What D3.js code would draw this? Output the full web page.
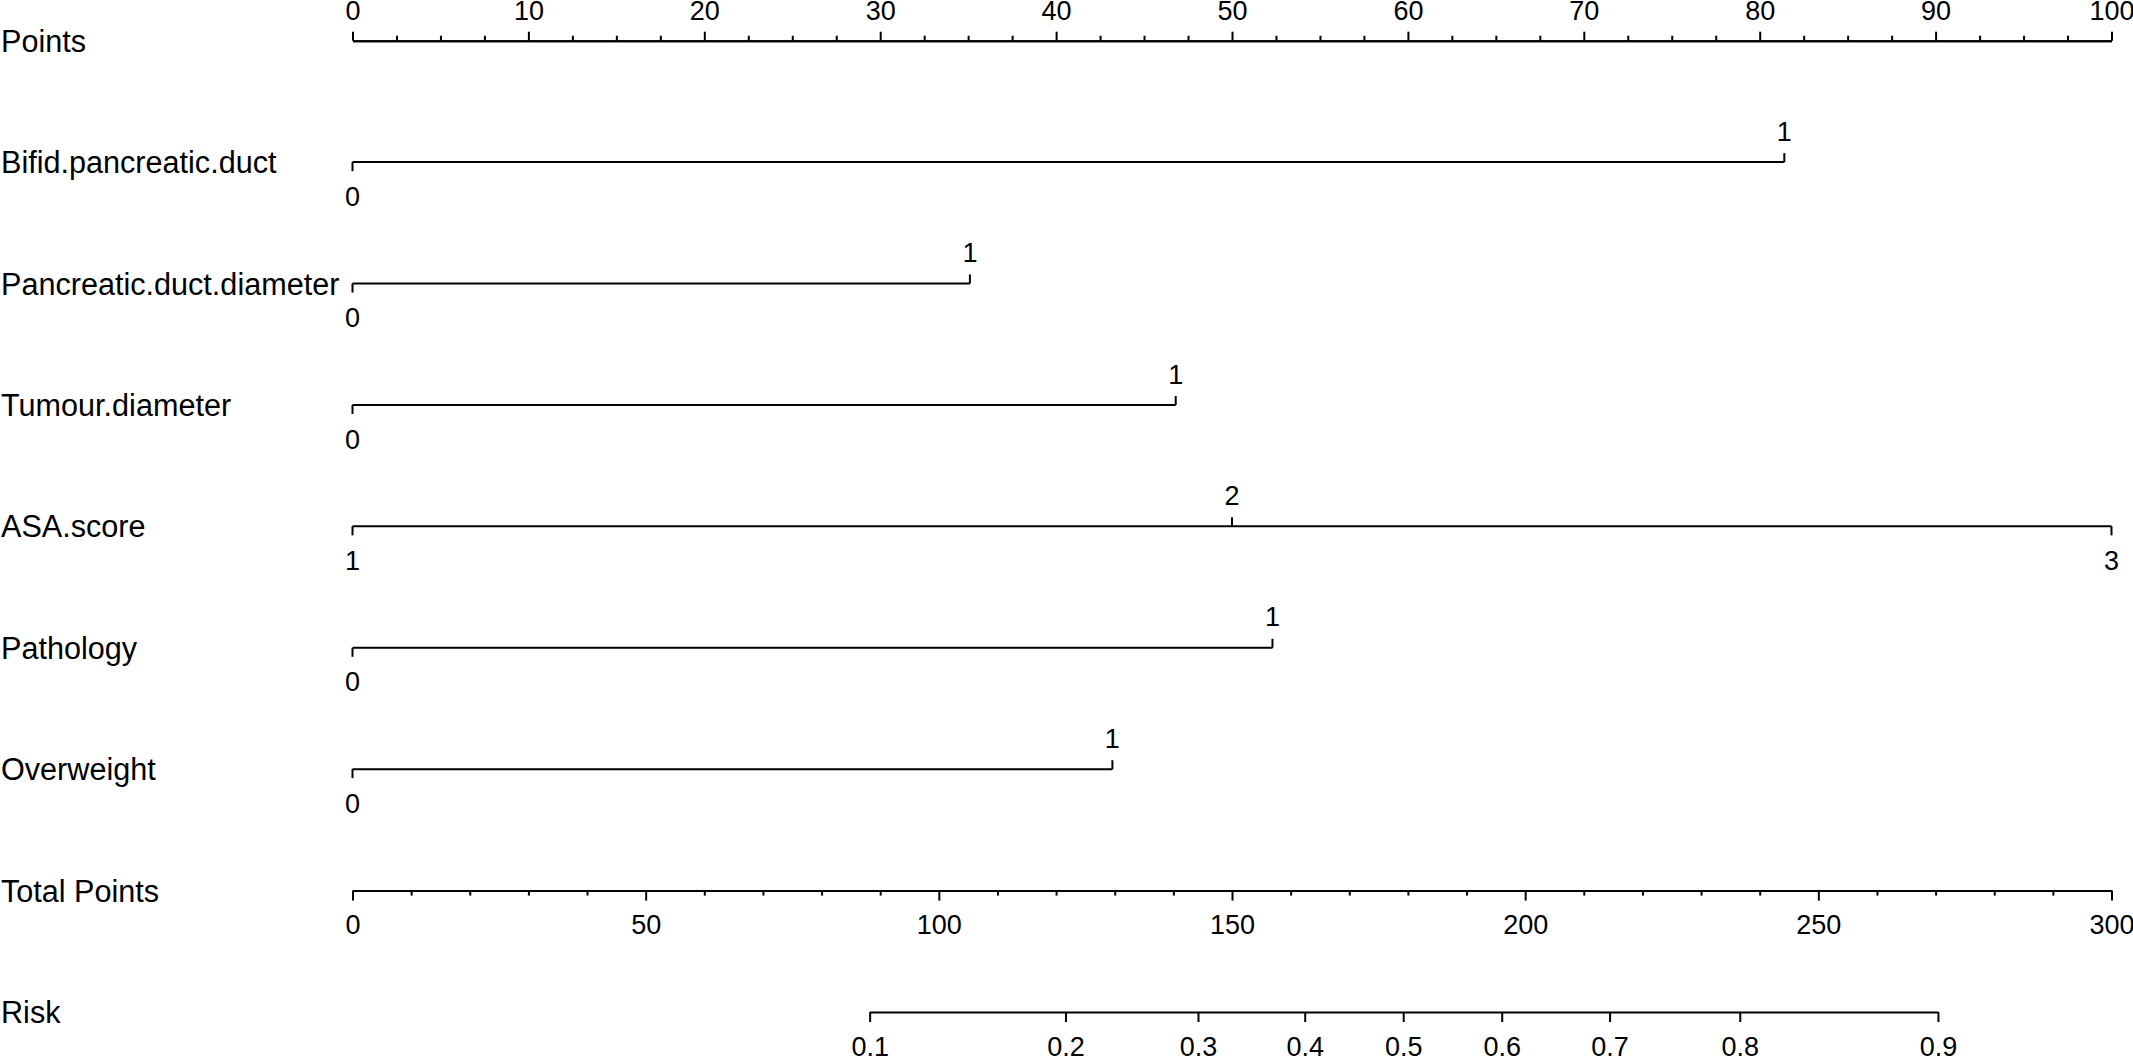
<!DOCTYPE html>
<html lang="en">
<head>
    <meta charset="UTF-8">
    <title>Nomogram</title>
    <script src="https://d3js.org/d3.v7.min.js"></script>
    <style>
        body { margin: 0; background: #fff; }
        text { font-family: "Liberation Sans", Arial, sans-serif; fill: #000; }
    </style>
</head>
<body>
    <svg width="2133" height="1056"></svg>
    <script>
        // row names, top to bottom
        var rows = ["Points", "Bifid.pancreatic.duct", "Pancreatic.duct.diameter", "Tumour.diameter",
                    "ASA.score", "Pathology", "Overweight", "Total Points", "Risk"];

        // predictor levels and the points each level gets
        var predictors = ["Bifid.pancreatic.duct", "Pancreatic.duct.diameter", "Tumour.diameter",
                          "ASA.score", "Pathology", "Overweight"];
        var levelLabels = [["0", "1"], ["0", "1"], ["0", "1"], ["1", "2", "3"], ["0", "1"], ["0", "1"]];
        var levelPoints = [[0, 81.4], [0, 35.1], [0, 46.8], [0, 50, 100], [0, 52.3], [0, 43.2]];
        // label above (-1) or below (1) the line
        var levelSide = [[1, -1], [1, -1], [1, -1], [1, -1, 1], [1, -1], [1, -1]];

        // risk scale: probability and matching total points
        var riskLabels = [0.1, 0.2, 0.3, 0.4, 0.5, 0.6, 0.7, 0.8, 0.9];
        var riskTotalPoints = [88.2, 121.6, 144.2, 162.4, 179.2, 196.0, 214.4, 236.6, 270.4];

        var svg = d3.select("svg");
        svg.append("rect").attr("width", 2133).attr("height", 1056).attr("fill", "#fff");

        var x0 = 352.5, x1 = 2111.5;
        var xPts = d3.scaleLinear().domain([0, 100]).range([x0, x1]);
        var xTot = d3.scaleLinear().domain([0, 300]).range([x0, x1]);
        var xRisk = d3.scaleLinear().domain(riskLabels).range(riskTotalPoints.map(function(d) { return xTot(d); }));
        var y = d3.scalePoint().domain(rows).range([40.7, 1012]);

        var nameSize = 30.6, tickSize = 27;

        // row names
        svg.selectAll("text.name")
            .data(rows)
            .enter().append("text")
            .attr("class", "name")
            .attr("x", 1)
            .attr("y", function(d) { return y(d) + 11; })
            .style("font-size", nameSize + "px")
            .text(function(d) { return d; });

        function styleAxis(g) {
            g.selectAll("path, line").attr("stroke", "#000").attr("stroke-width", 2);
            g.selectAll("text").style("font-size", tickSize + "px").attr("fill", "#000");
            g.attr("font-family", null).attr("font-size", null);
        }

        // Points axis (ticks up)
        var minorPts = d3.range(0, 100.01, 2.5).filter(function(d) { return d % 10 !== 0; });
        svg.append("g")
            .attr("transform", "translate(0," + y("Points") + ")")
            .call(d3.axisTop(xPts).tickValues(minorPts).tickSize(5).tickSizeOuter(0).tickFormat(""))
            .call(styleAxis);
        svg.append("g")
            .attr("transform", "translate(0," + y("Points") + ")")
            .call(d3.axisTop(xPts).tickValues(d3.range(0, 101, 10)).tickSize(9).tickPadding(12.2).tickSizeOuter(0))
            .call(styleAxis);

        // Total Points axis (ticks down)
        var minorTot = d3.range(0, 301, 10).filter(function(d) { return d % 50 !== 0; });
        svg.append("g")
            .attr("transform", "translate(0," + y("Total Points") + ")")
            .call(d3.axisBottom(xTot).tickValues(minorTot).tickSize(5).tickSizeOuter(0).tickFormat(""))
            .call(styleAxis);
        svg.append("g")
            .attr("transform", "translate(0," + y("Total Points") + ")")
            .call(d3.axisBottom(xTot).tickValues(d3.range(0, 301, 50)).tickSize(10).tickPadding(14.5).tickSizeOuter(0))
            .call(styleAxis);

        // Risk axis
        svg.append("g")
            .attr("transform", "translate(0," + y("Risk") + ")")
            .call(d3.axisBottom(xRisk).tickValues(riskLabels).tickSize(10).tickPadding(14.5).tickSizeOuter(0)
                .tickFormat(d3.format(".1f")))
            .call(styleAxis);

        // predictor lines
        predictors.forEach(function(name, i) {
            var g = svg.append("g").attr("transform", "translate(0," + y(name) + ")");
            var pts = levelPoints[i];
            g.append("line")
                .attr("x1", xPts(d3.min(pts))).attr("x2", xPts(d3.max(pts)))
                .attr("stroke", "#000").attr("stroke-width", 2);
            var lv = g.selectAll("g.level")
                .data(pts.map(function(p, j) { return { p: p, label: levelLabels[i][j], side: levelSide[i][j] }; }))
                .enter().append("g")
                .attr("transform", function(d) { return "translate(" + xPts(d.p) + ",0)"; });
            lv.append("line")
                .attr("y2", function(d) { return d.side * 9; })
                .attr("stroke", "#000").attr("stroke-width", 2);
            lv.append("text")
                .attr("text-anchor", "middle")
                .attr("y", function(d) { return d.side > 0 ? 43.7 : -21.4; })
                .style("font-size", tickSize + "px")
                .text(function(d) { return d.label; });
        });
    </script>
</body>
</html>
